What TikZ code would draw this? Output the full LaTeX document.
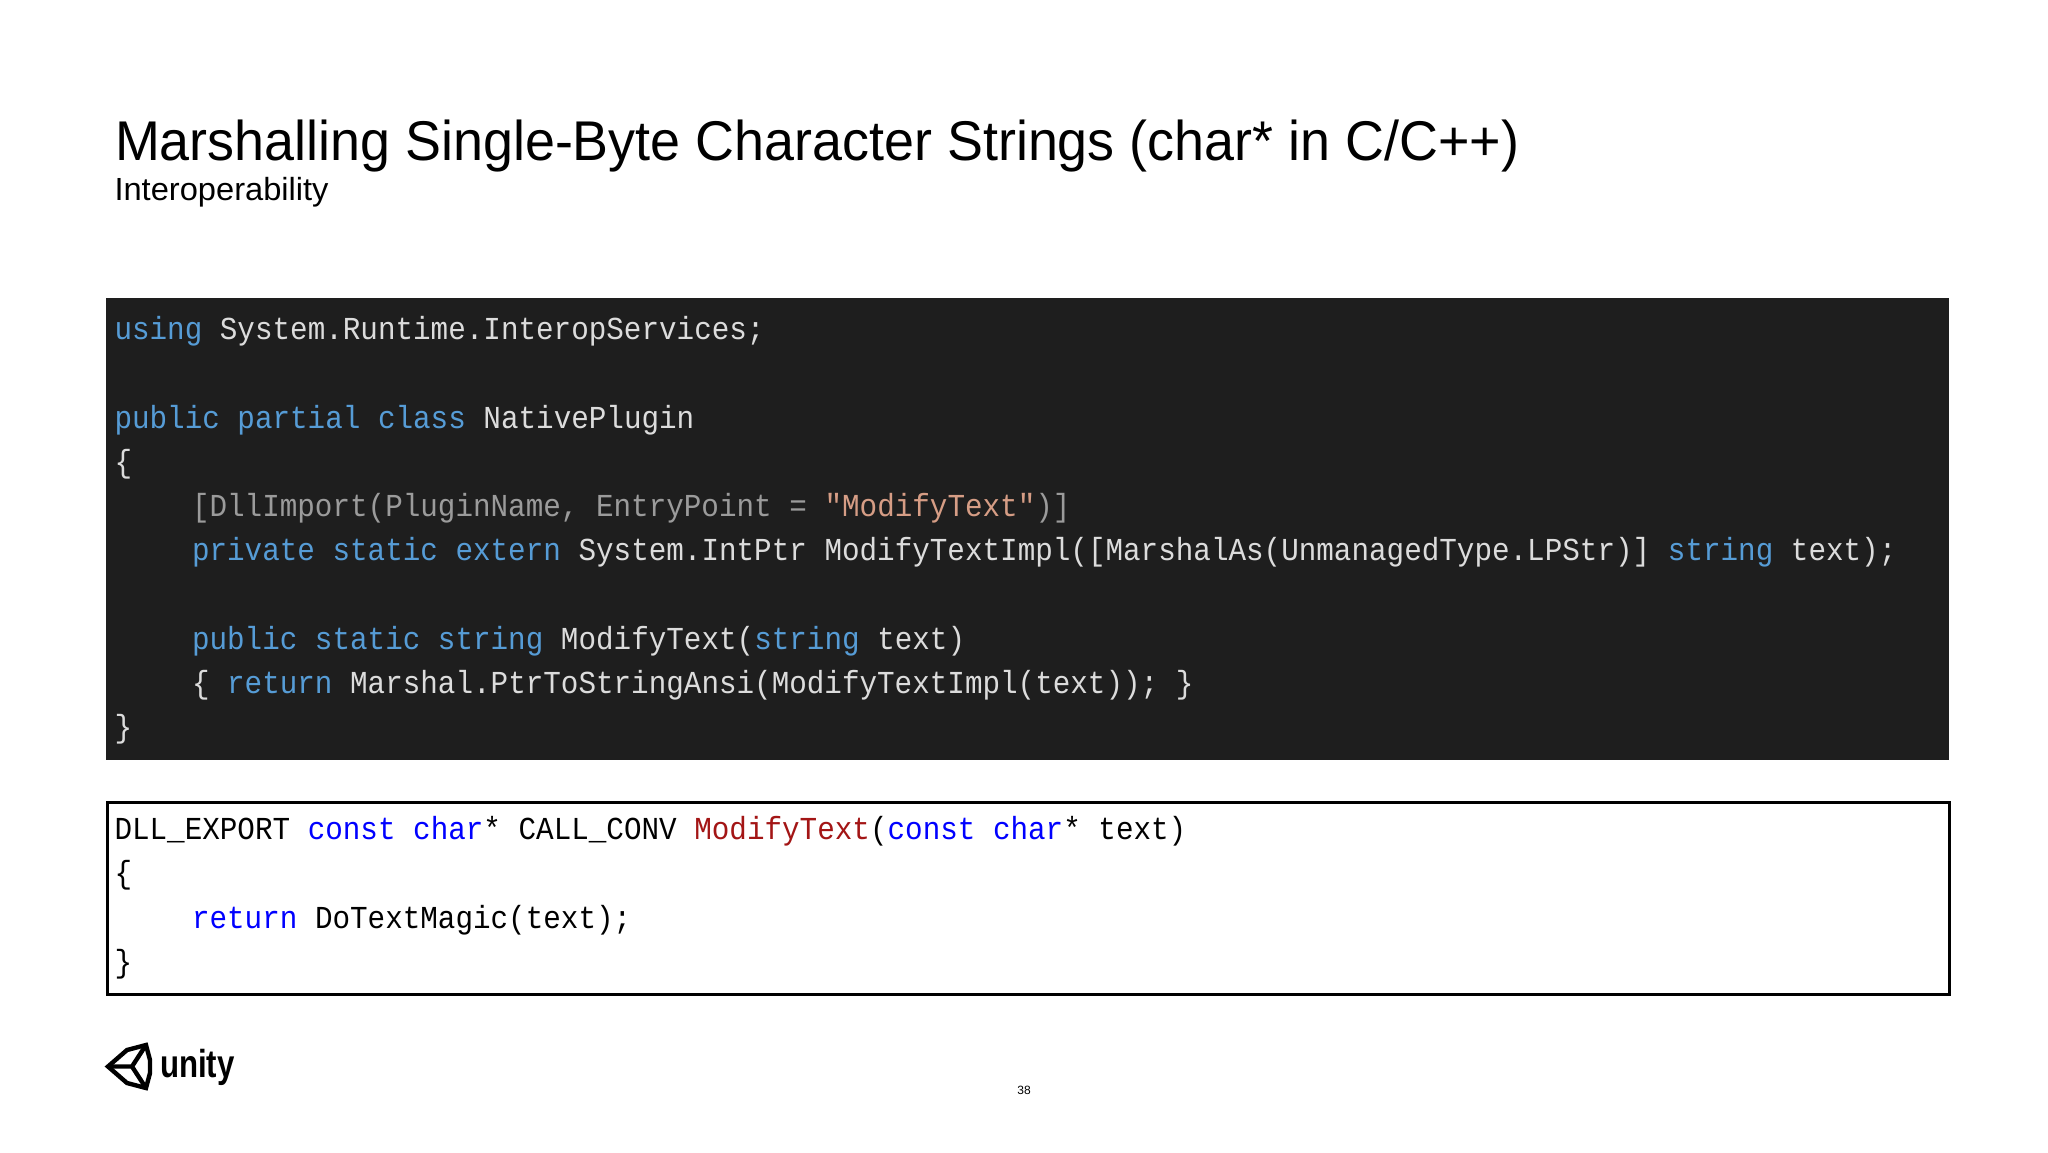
\documentclass[tikz,border=0pt]{standalone}
\usepackage{fontspec}
\setmainfont{Liberation Sans}
\newfontfamily\codefont[FakeStretch=0.915]{Liberation Mono}
\newfontfamily\titlefont[FakeStretch=0.962]{Liberation Sans}
\newfontfamily\subfont[FakeStretch=1.02]{Liberation Sans}
\newfontfamily\logofont[FakeStretch=0.8]{Liberation Sans}
\definecolor{darkbg}{HTML}{1E1E1E}
\definecolor{kwd}{HTML}{569CD6}
\definecolor{lighttext}{HTML}{DCDCDC}
\definecolor{greytext}{HTML}{9B9B9B}
\definecolor{strtext}{HTML}{D69D85}
\definecolor{lkwd}{HTML}{0000FF}
\definecolor{lred}{HTML}{A31515}
\newcommand{\kw}[1]{\textcolor{kwd}{#1}}
\newcommand{\gr}[1]{\textcolor{greytext}{#1}}
\newcommand{\st}[1]{\textcolor{strtext}{#1}}
\newcommand{\lk}[1]{\textcolor{lkwd}{#1}}
\newcommand{\lr}[1]{\textcolor{lred}{#1}}
\tikzset{
  txt/.style={anchor=base west,inner sep=0pt,outer sep=0pt},
  darkcode/.style={txt,text=lighttext,font=\codefont\fontsize{16pt}{16pt}\selectfont},
  lightcode/.style={txt,text=black,font=\codefont\fontsize{16pt}{16pt}\selectfont},
  logoline/.style={black,line width=2.2pt,line join=miter}
}
\begin{document}
\begin{tikzpicture}[x=0.5pt,y=-0.5pt]
\useasboundingbox (0,0) rectangle (2048,1152);
\fill[white] (0,0) rectangle (2048,1152);
\node[txt,font=\titlefont\fontsize{28pt}{28pt}\selectfont] (title) at (115,160) {Marshalling Single-Byte Character Strings (char* in C/C++)};
\node[txt,font=\subfont\fontsize{16pt}{16pt}\selectfont] (subtitle) at (114.5,200) {Interoperability};
\fill[darkbg] (106,298) rectangle (1949,760);
\node[darkcode] (d0) at (114.5,339) {\kw{using} System.Runtime.InteropServices;};
\node[darkcode] (d2) at (114.5,428) {\kw{public partial class} NativePlugin};
\node[darkcode] (d3) at (114.5,472) {\{};
\node[darkcode] (d4) at (192,516) {\gr{[DllImport(PluginName, EntryPoint = }\st{"ModifyText"}\gr{)]}};
\node[darkcode] (d5) at (192,560.5) {\kw{private static extern} System.IntPtr ModifyTextImpl([MarshalAs(UnmanagedType.LPStr)] \kw{string} text);};
\node[darkcode] (d7) at (192,649.5) {\kw{public static string} ModifyText(\kw{string} text)};
\node[darkcode] (d8) at (192,693.5) {\{ \kw{return} Marshal.PtrToStringAnsi(ModifyTextImpl(text)); \}};
\node[darkcode] (d9) at (114.5,737) {\}};
\draw[black,line width=1.5pt] (107,802) rectangle (1949,994);
\node[lightcode] (l0) at (114.5,839) {DLL\_EXPORT \lk{const char}* CALL\_CONV \lr{ModifyText}(\lk{const char}* text)};
\node[lightcode] (l1) at (114.5,883.5) {\{};
\node[lightcode] (l2) at (192,928) {\lk{return} DoTextMagic(text);};
\node[lightcode] (l3) at (114.5,972) {\}};
% Unity logo
\draw[logoline] (108,1066.5) -- (127,1050) -- (146,1045) -- (150,1060) -- (150,1073) -- (146,1088) -- (127,1083) -- cycle;
\draw[logoline] (108,1066.5) -- (132,1066.5) -- (146,1045);
\draw[logoline] (132,1066.5) -- (146,1088);
\node[txt,font=\logofont\bfseries\fontsize{19.5pt}{19.5pt}\selectfont] (logo) at (160,1077) {unity};
\node[anchor=center,inner sep=0pt,font=\fontsize{6pt}{6pt}\selectfont] (page) at (1024,1090) {38};
\end{tikzpicture}
\end{document}
